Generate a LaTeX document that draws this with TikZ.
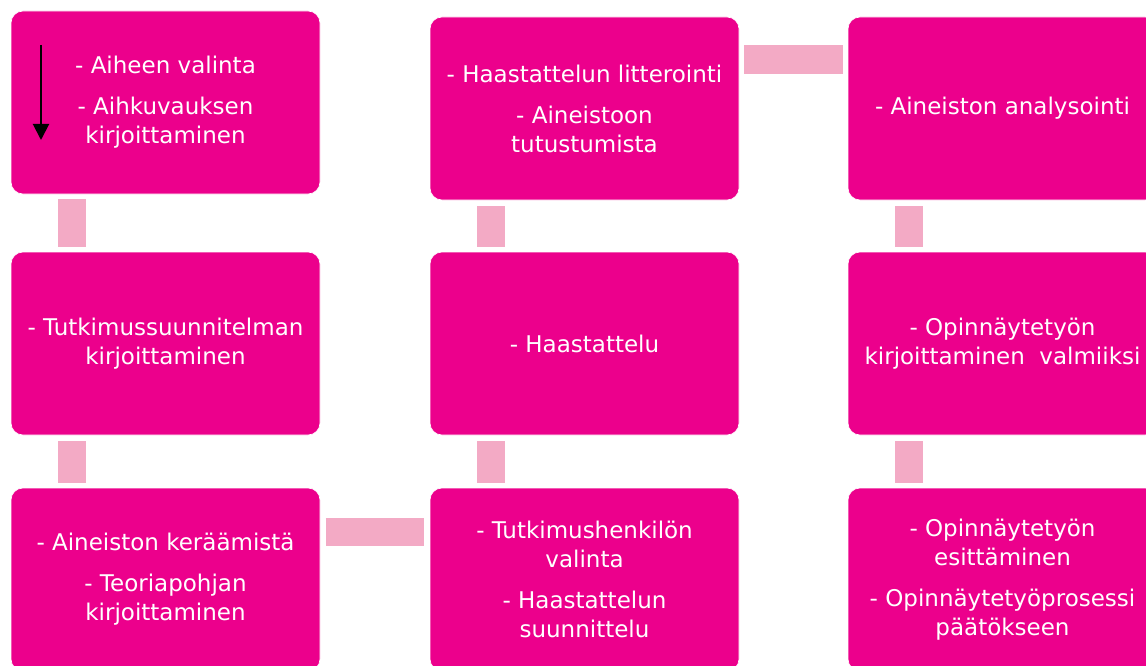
\documentclass[tikz,border=0pt]{standalone}
\usepackage{fontspec}
\setmainfont{DejaVu Sans}
\usetikzlibrary{arrows.meta}
\definecolor{boxmag}{RGB}{236,0,140}
\definecolor{connpink}{RGB}{243,170,197}
\tikzset{
  stagebox/.style={rectangle, rounded corners=12pt, fill=boxmag, draw=white, line width=0.6pt,
    minimum width=309pt, minimum height=183pt, inner sep=0pt, text=white, align=center,
    font=\fontsize{23}{29}\selectfont},
  conn/.style={draw=connpink, line width=28.5pt},
  flowarrow/.style={draw=black, line width=2pt, -{Triangle[width=16pt,length=16pt]}}
}
\begin{document}
\begin{tikzpicture}[x=1pt,y=-1pt]
\useasboundingbox (0,0) rectangle (1146,666);
\fill[white] (0,0) rectangle (1146,666);
% boxes
\node[stagebox] (b1) at (165.5,102.5) {- Aiheen valinta\\[12pt]- Aihkuvauksen\\kirjoittaminen};
\node[stagebox] (b2) at (165.5,343.5) {- Tutkimussuunnitelman\\kirjoittaminen};
\node[stagebox] (b3) at (165.5,579.5) {- Aineiston keräämistä\\[12pt]- Teoriapohjan\\kirjoittaminen};
\node[stagebox] (b4) at (584.5,579.5) {- Tutkimushenkilön\\valinta\\[12pt]- Haastattelun\\suunnittelu};
\node[stagebox] (b5) at (584.5,343.5) {- Haastattelu};
\node[stagebox] (b6) at (584.5,108.5) {- Haastattelun litterointi\\[12pt]- Aineistoon\\tutustumista};
\node[stagebox] (b7) at (1002.5,108.5) {- Aineiston analysointi};
\node[stagebox] (b8) at (1002.5,343.5) {- Opinnäytetyön\\kirjoittaminen\ \ valmiiksi};
\node[stagebox] (b9) at (1002.5,579.5) {- Opinnäytetyön\\esittäminen\\[12pt]- Opinnäytetyöprosessi\\päätökseen};
% connectors
\draw[conn] ([xshift=61.5pt,yshift=-5pt]b1.south west) -- ([xshift=61.5pt,yshift=5pt]b2.north west);
\draw[conn] ([xshift=61.5pt,yshift=-6pt]b2.south west) -- ([xshift=61.5pt,yshift=5pt]b3.north west);
\draw[conn] ([xshift=5.5pt,yshift=-44.5pt]b3.north east) -- ([xshift=-5.5pt,yshift=-44.5pt]b4.north west);
\draw[conn] ([xshift=61.5pt,yshift=5pt]b4.north west) -- ([xshift=61.5pt,yshift=-6pt]b5.south west);
\draw[conn] ([xshift=61.5pt,yshift=5pt]b5.north west) -- ([xshift=61.5pt,yshift=-6pt]b6.south west);
\draw[conn] ([xshift=5pt,yshift=-43pt]b6.north east) -- ([xshift=-5pt,yshift=-43pt]b7.north west);
\draw[conn] ([xshift=61.5pt,yshift=-6pt]b7.south west) -- ([xshift=61.5pt,yshift=5pt]b8.north west);
\draw[conn] ([xshift=61.5pt,yshift=-6pt]b8.south west) -- ([xshift=61.5pt,yshift=5pt]b9.north west);
% arrow in first box
\coordinate (arrS) at (41,45);
\coordinate (arrE) at (41,140);
\draw[flowarrow] (arrS) -- (arrE);
\end{tikzpicture}
\end{document}
